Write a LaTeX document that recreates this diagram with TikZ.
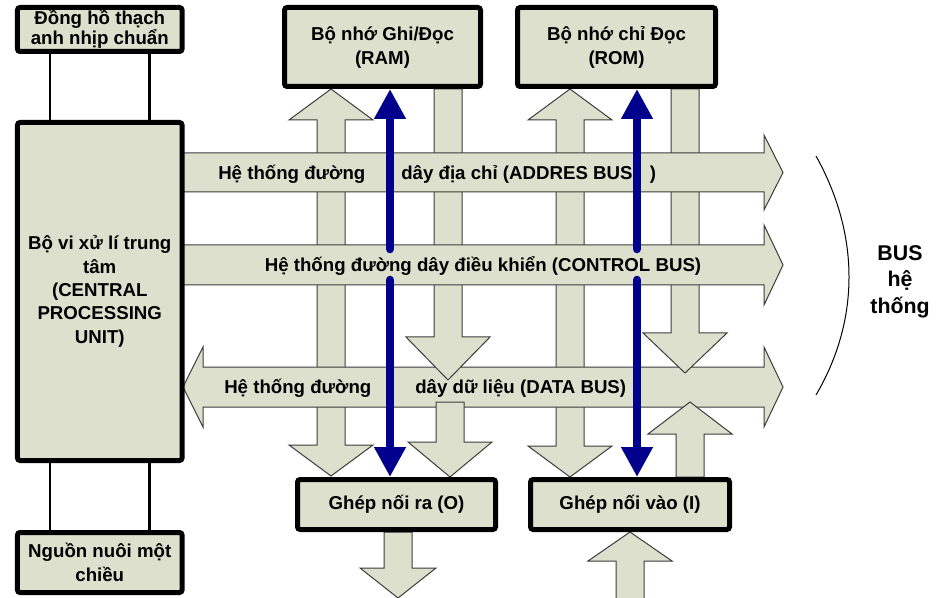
\documentclass[tikz,border=0pt]{standalone}
\usepackage{fontspec}
\setmainfont{Liberation Sans}
\usetikzlibrary{arrows.meta}
\definecolor{busfill}{RGB}{221,224,204}
\definecolor{busline}{RGB}{60,60,60}
\definecolor{busnavy}{RGB}{0,0,140}

\begin{document}
\begin{tikzpicture}[x=0.75pt, y=-0.75pt,
  every node/.style={font=\fontsize{14}{18}\selectfont\bfseries},
  unit/.style={fill=busfill, draw=black, line width=3.75pt, rounded corners=2pt, inner sep=0pt, align=center},
  bararrow/.style={fill=busfill, draw=busline, line width=0.75pt, line join=miter},
  buslabel/.style={inner sep=0pt, text height=10pt, text depth=0pt},
  wire/.style={draw=black, line width=2pt},
  ctrlarrow/.style={draw=busnavy, line width=6.4pt, line cap=round, -{Triangle[width=22.5pt,length=22.5pt]}}
]
  \useasboundingbox (0,0) rectangle (938,598);

  % through arrows under RAM and ROM
  \draw[bararrow] (317,120) -- (289,120) -- (331,89) -- (373,120) -- (345,120) -- (345,445) -- (373,445) -- (331,476) -- (289,445) -- (317,445) -- cycle;
  \draw[bararrow] (556,120) -- (528,120) -- (570,89) -- (612,120) -- (584,120) -- (584,446) -- (612,446) -- (570,477) -- (528,446) -- (556,446) -- cycle;

  % data bus
  \draw[bararrow] (183,387) -- (203,347) -- (203,367) -- (764,367) -- (764,347) -- (783,387) -- (764,427) -- (764,407) -- (203,407) -- (203,427) -- cycle;

  % arrows to and from the data bus
  \draw[bararrow] (434,89) -- (462,89) -- (462,337) -- (490,337) -- (448,380) -- (406,337) -- (434,337) -- cycle;
  \draw[bararrow] (671,89) -- (699,89) -- (699,333) -- (727,333) -- (685,373) -- (643,333) -- (671,333) -- cycle;
  \draw[bararrow] (436,402) -- (464,402) -- (464,442) -- (492,442) -- (450,477) -- (408,442) -- (436,442) -- cycle;
  \draw[bararrow] (676,477) -- (676,434) -- (648,434) -- (690,402) -- (732,434) -- (704,434) -- (704,477) -- cycle;

  % address and control bus
  \draw[bararrow] (183,153) -- (764,153) -- (764,135) -- (783,172.5) -- (764,210) -- (764,192) -- (183,192) -- cycle;
  \draw[bararrow] (183,245) -- (764,245) -- (764,225) -- (783,265) -- (764,305) -- (764,285) -- (183,285) -- cycle;

  % outside world
  \draw[bararrow] (384,532) -- (412,532) -- (412,568) -- (436,568) -- (398,598) -- (360,568) -- (384,568) -- cycle;
  \draw[bararrow] (616,600) -- (616,561) -- (588,561) -- (630,532) -- (672,561) -- (644,561) -- (644,600) -- cycle;

  \node[buslabel, anchor=west] (addrl) at (218,172.5) {Hệ thống đường};
  \node[buslabel, anchor=west] (addrr) at (401,172.5) {dây địa chỉ (ADDRES BUS\hspace{13pt})};
  \node[buslabel] (ctrll) at (483,265) {Hệ thống đường dây điều khiển (CONTROL BUS)};
  \node[buslabel, anchor=west] (datal) at (224,387) {Hệ thống đường};
  \node[buslabel, anchor=west] (datar) at (415,387) {dây dữ liệu (DATA BUS)};

  \node[unit, minimum width=123.5pt, minimum height=33pt, font=\fontsize{14}{15}\selectfont\bfseries] (clock) at (99.75,29.5) {Đồng hồ thạch\\anh nhịp chuẩn};
  \node[unit, minimum width=123.5pt, minimum height=253.5pt, font=\fontsize{14}{17.5}\selectfont\bfseries] (cpu) at (99.75,291.5) {Bộ vi xử lí trung\\tâm\\(CENTRAL\\PROCESSING\\UNIT)};
  \node[unit, minimum width=123.5pt, minimum height=45pt] (power) at (99.75,562.5) {Nguồn nuôi một\\chiều};
  \node[unit, minimum width=147pt, minimum height=59.25pt] (ram) at (382.5,47) {Bộ nhớ Ghi/Đọc\\(RAM)};
  \node[unit, minimum width=148.5pt, minimum height=59.25pt] (rom) at (616.5,47) {Bộ nhớ chỉ Đọc\\(ROM)};
  \node[unit, minimum width=148.5pt, minimum height=37.5pt] (outbox) at (396.5,504.5) {Ghép nối ra (O)};
  \node[unit, minimum width=149.25pt, minimum height=37.5pt] (inbox) at (630,504.5) {Ghép nối vào (I)};

  \draw[wire] ([xshift=26.25pt]clock.south west) -- ([xshift=26.25pt]cpu.north west);
  \draw[wire] ([xshift=-26.25pt]clock.south east) -- ([xshift=-26.25pt]cpu.north east);
  \draw[wire] ([xshift=26.25pt]cpu.south west) -- ([xshift=26.25pt]power.north west);
  \draw[wire] ([xshift=-26.25pt]cpu.south east) -- ([xshift=-26.25pt]power.north east);

  % read/write control
  \coordinate (ramtop) at (390,249);
  \coordinate (rambot) at (390,280);
  \coordinate (romtop) at (637,249);
  \coordinate (rombot) at (637,280);
  \draw[ctrlarrow] (ramtop) -- (ramtop |- ram.south);
  \draw[ctrlarrow] (rambot) -- (rambot |- outbox.north);
  \draw[ctrlarrow] (romtop) -- (romtop |- rom.south);
  \draw[ctrlarrow] (rombot) -- (rombot |- inbox.north);

  \draw[line width=0.75pt] (816,156) .. controls (860,235) and (860,320) .. (816,395);
  \node[font=\fontsize{16}{20}\selectfont\bfseries, align=center, inner sep=0pt] (systag) at (900,281.5) {BUS\\hệ\\thống};
\end{tikzpicture}
\end{document}
